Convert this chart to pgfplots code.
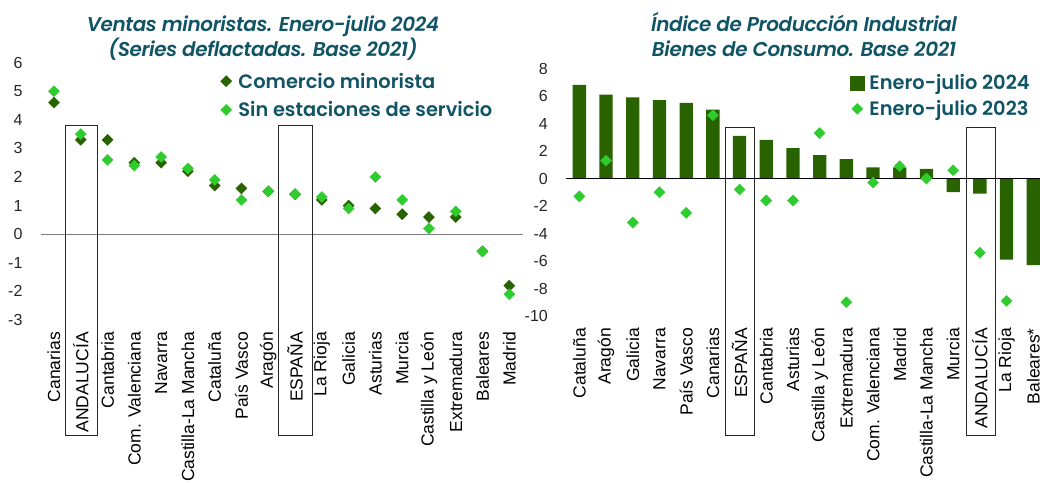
\documentclass[border=0pt]{standalone}
\usepackage{pgfplots}
\pgfplotsset{compat=1.18}
\usepackage{fontspec}
\setmainfont{Liberation Sans}
\newfontfamily\legfont{Poppins SemiBold}
\newfontfamily\titfont{Poppins SemiBold Italic}[LetterSpace=-2]
\definecolor{dg}{HTML}{286300}
\definecolor{lg}{HTML}{2ECC2E}
\definecolor{tealc}{HTML}{105465}

\begin{document}
\begin{tikzpicture}
\pgfplotsset{
 common/.style={scale only axis, anchor=south west, xmin=-0.5, xmax=17.5,
  axis line style={draw=none}, major tick length=0pt, xtick={0,...,17}, clip=false,
  xticklabel style={rotate=90, anchor=east, font=\fontsize{17.5}{18}\selectfont, text=black, inner sep=0pt},
  yticklabel style={font=\fontsize{16}{17}\selectfont, text=black!85, inner sep=0pt},
  xticklabel shift=12pt, yticklabel shift=18pt,
  /pgf/number format/assume math mode=true,
  legend style={draw=none, fill=none, inner sep=0pt, outer sep=0pt,
    font=\legfont\fontsize{19.4}{23}\selectfont, text=tealc,
    nodes={inner sep=0pt, inner xsep=4.5pt}, cells={anchor=west}},
  legend image code/.code={\path (0pt,-7.5pt) (15pt,7.5pt); \draw[##1] plot coordinates {(7.5pt,0pt)};},
 },
 dmark/.style={only marks, mark=square*, mark size=3.9pt, mark options={rotate=45, fill=#1, draw=#1}},
}

% ---------------- left chart ----------------
\begin{axis}[common, at={(40.6pt,162pt)}, width=482.1pt, height=257.4pt,
  ymin=-3, ymax=6, ytick={-3,...,6},
  xticklabels={Canarias,ANDALUCÍA,Cantabria,Com. Valenciana,Navarra,Castilla-La Mancha,Cataluña,País Vasco,Aragón,ESPAÑA,La Rioja,Galicia,Asturias,Murcia,Castilla y León,Extremadura,Baleares,Madrid},
  legend style={at={(0.369,0.872)}, anchor=west, row sep=12pt}]
\draw[gray, line width=1.2pt] (axis cs:-0.5,0) -- (axis cs:17.5,0);
\addplot[dmark=dg] coordinates {(0,4.6) (1,3.3) (2,3.3) (3,2.5) (4,2.5) (5,2.2) (6,1.7) (7,1.6) (8,1.5) (9,1.4) (10,1.2) (11,1.0) (12,0.9) (13,0.7) (14,0.6) (15,0.6) (16,-0.6) (17,-1.8)};
\addplot[dmark=lg] coordinates {(0,5.0) (1,3.5) (2,2.6) (3,2.4) (4,2.7) (5,2.3) (6,1.9) (7,1.2) (8,1.5) (9,1.4) (10,1.3) (11,0.9) (12,2.0) (13,1.2) (14,0.2) (15,0.8) (16,-0.6) (17,-2.1)};
\legend{Comercio minorista, Sin estaciones de servicio}
\end{axis}

% ---------------- right chart ----------------
\begin{axis}[common, at={(566pt,166pt)}, width=480.6pt, height=247.5pt,
  ymin=-10, ymax=8, ytick={-10,-8,...,8},
  xticklabels={Cataluña,Aragón,Galicia,Navarra,País Vasco,Canarias,ESPAÑA,Cantabria,Asturias,Castilla y León,Extremadura,Com. Valenciana,Madrid,Castilla-La Mancha,Murcia,ANDALUCÍA,La Rioja,Baleares*},
  legend style={at={(0.590,0.889)}, anchor=west, row sep=9pt}]
\addplot[ybar, bar width=13.3pt, fill=dg, draw=none,
  legend image code/.code={\fill[dg] (0pt,-7.5pt) rectangle (15pt,7.5pt);}]
  coordinates {(0,6.8) (1,6.1) (2,5.9) (3,5.7) (4,5.5) (5,5.0) (6,3.1) (7,2.8) (8,2.2) (9,1.7) (10,1.4) (11,0.8) (12,0.8) (13,0.7) (14,-1.0) (15,-1.1) (16,-5.9) (17,-6.3)};
\draw[black, line width=1pt] (axis cs:-0.5,0) -- (axis cs:17.5,0);
\addplot[dmark=lg] coordinates {(0,-1.3) (1,1.3) (2,-3.2) (3,-1.0) (4,-2.5) (5,4.6) (6,-0.8) (7,-1.6) (8,-1.6) (9,3.3) (10,-9.0) (11,-0.3) (12,0.9) (13,0.0) (14,0.6) (15,-5.4) (16,-8.9)};
\legend{Enero-julio 2024, Enero-julio 2023}
\end{axis}

% titles
\node[anchor=base, font=\titfont\fontsize{20}{24}\selectfont, text=tealc] at (263pt,450.3pt) {Ventas minoristas. Enero-julio 2024};
\node[anchor=base, font=\titfont\fontsize{20}{24}\selectfont, text=tealc] at (263pt,425pt) {(Series deflactadas. Base 2021)};
\node[anchor=base, font=\titfont\fontsize{20}{24}\selectfont, text=tealc] at (804pt,450.3pt) {Índice de Producción Industrial};
\node[anchor=base, font=\titfont\fontsize{20}{24}\selectfont, text=tealc] at (804pt,425pt) {Bienes de Consumo. Base 2021};

% highlight boxes
\draw[black!85, line width=0.9pt] (65pt,47pt) rectangle (97pt,357pt);
\draw[black!85, line width=0.9pt] (278pt,47pt) rectangle (312pt,357pt);
\draw[black!85, line width=0.9pt] (725.7pt,47pt) rectangle (754.3pt,354.3pt);
\draw[black!85, line width=0.9pt] (966pt,47pt) rectangle (995pt,354.3pt);

\pgfresetboundingbox
\useasboundingbox (0pt,0pt) rectangle (1040pt,482pt);
\end{tikzpicture}
\end{document}
